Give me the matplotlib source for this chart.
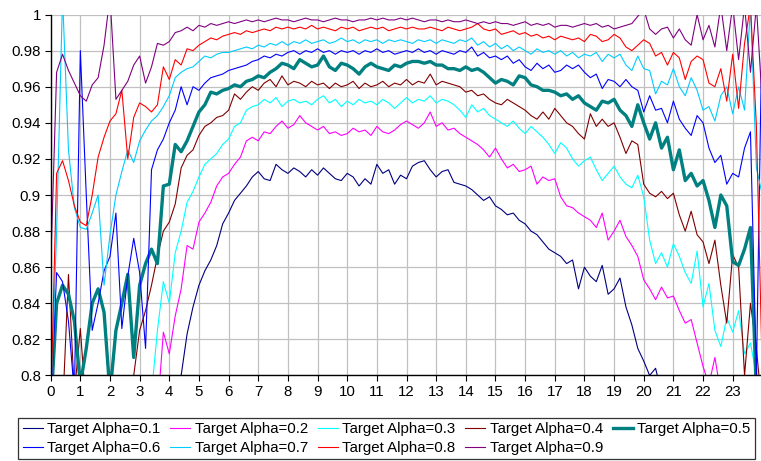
import numpy as np
import matplotlib
matplotlib.use("Agg")
import matplotlib.pyplot as plt
from matplotlib.ticker import FuncFormatter, MultipleLocator

plt.rcParams["font.family"] = ["Liberation Sans", "DejaVu Sans"]

# hour of day, sampled every 0.2 h
hours = np.arange(121) * 0.2

# coverage per series, in thousandths
alpha_01 = [
    780, 780, 780, 780, 780, 780, 780, 780, 780, 780,
    780, 780, 780, 780, 780, 780, 780, 780, 780, 780,
    780, 780, 800, 823, 838, 850, 858, 864, 872, 884,
    890, 897, 901, 905, 910, 913, 909, 908, 917, 914,
    912, 915, 913, 910, 914, 911, 915, 912, 909, 908,
    912, 910, 905, 909, 906, 917, 912, 914, 906, 911,
    909, 916, 918, 919, 914, 910, 913, 914, 907, 906,
    905, 903, 900, 897, 899, 894, 892, 889, 890, 886,
    884, 880, 878, 874, 870, 868, 866, 862, 864, 848,
    860, 855, 852, 861, 845, 848, 854, 838, 828, 815,
    808, 800, 804, 790, 780, 780, 780, 780, 780, 780,
    780, 780, 780, 780, 780, 780, 780, 780, 780, 780,
    780,
]
alpha_02 = [
    780, 780, 780, 780, 780, 780, 780, 780, 780, 780,
    780, 780, 780, 780, 780, 780, 780, 780, 780, 824,
    812, 833, 848, 872, 870, 885, 890, 896, 905, 910,
    912, 917, 921, 930, 932, 930, 935, 934, 938, 941,
    937, 939, 944, 940, 938, 936, 938, 934, 935, 933,
    934, 937, 935, 936, 933, 938, 935, 934, 936, 939,
    941, 939, 937, 940, 946, 938, 940, 936, 937, 934,
    932, 930, 928, 925, 921, 926, 920, 915, 917, 913,
    914, 916, 906, 910, 908, 909, 899, 894, 893, 890,
    888, 886, 882, 890, 875, 880, 886, 877, 872, 866,
    853, 848, 842, 849, 843, 844, 836, 829, 831, 818,
    805, 795, 810, 790, 780, 780, 780, 780, 780, 780,
    780,
]
alpha_03 = [
    780, 780, 780, 780, 780, 780, 780, 780, 780, 780,
    780, 780, 780, 780, 780, 780, 780, 790, 825, 852,
    840, 868, 880, 896, 902, 910, 917, 920, 923, 928,
    931, 938, 940, 947, 949, 950, 953, 951, 954, 949,
    952, 953, 951, 952, 950, 953, 955, 951, 953, 949,
    952, 950, 953, 951, 952, 950, 953, 951, 948, 951,
    954, 951, 953, 952, 955, 951, 953, 952, 950, 947,
    943, 950, 946, 948, 944, 942, 940, 938, 941, 937,
    934, 938, 935, 932, 928, 923, 929, 926, 920, 916,
    919, 921, 914, 908, 912, 916, 910, 906, 904, 911,
    899, 875, 862, 868, 860, 873, 866, 857, 851, 869,
    838, 851, 825, 816, 832, 824, 836, 812, 818, 800,
    780,
]
alpha_04 = [
    780, 785, 780, 856, 790, 826, 780, 780, 780, 780,
    780, 780, 780, 780, 800, 825, 836, 850, 866, 880,
    885, 895, 915, 922, 925, 933, 938, 940, 943, 944,
    947, 956, 953, 957, 960, 958, 962, 964, 960, 966,
    961, 963, 962, 960, 963, 961, 962, 959, 962, 960,
    961, 963, 959, 962, 960, 961, 963, 960, 962, 961,
    964, 961, 963, 962, 967, 961, 963, 962, 961, 960,
    957, 958, 955, 956, 953, 951, 950, 953, 951, 949,
    947, 944, 942, 946, 942, 948, 944, 940, 938, 934,
    931, 945, 938, 942, 938, 940, 932, 923, 930, 928,
    906, 901, 899, 902, 898, 901, 889, 880, 891, 878,
    874, 862, 875, 850, 829, 867, 860, 800, 840, 815,
    780,
]
alpha_05 = [
    780, 840, 850, 845, 830, 795, 815, 840, 848, 835,
    790, 825, 840, 856, 810, 850, 862, 870, 862, 905,
    906, 928, 924, 930, 938, 946, 950, 957, 956, 958,
    959, 961, 960, 963, 964, 966, 965, 968, 970, 973,
    972, 970, 975, 973, 971, 972, 977, 971, 969, 973,
    972, 970, 967, 971, 973, 971, 970, 969, 972, 971,
    973, 974, 974, 973, 974, 972, 972, 970, 970, 969,
    971, 969, 970, 968, 965, 962, 964, 963, 961, 966,
    965, 961, 960, 958, 958, 957, 955, 956, 953, 955,
    951, 949, 947, 952, 951, 953, 947, 944, 938, 950,
    940, 931, 940, 926, 932, 914, 925, 908, 912, 905,
    908, 897, 882, 900, 894, 863, 861, 870, 882, 790,
    780,
]
alpha_06 = [
    780, 857, 852, 830, 790, 980, 900, 825, 840, 858,
    866, 890, 826, 855, 876, 857, 815, 914, 925, 931,
    940, 947, 960, 950, 960, 958, 962, 965, 966, 967,
    969, 970, 971, 972, 974, 975, 977, 976, 978, 977,
    979, 980, 978, 980, 979, 981, 979, 980, 978, 980,
    979, 980, 978, 980, 979, 981, 979, 980, 978, 979,
    980, 979, 981, 979, 980, 978, 980, 979, 978, 980,
    979, 982, 977, 979, 976, 977, 975, 977, 973, 975,
    971, 969, 973, 970, 972, 968, 969, 972, 970, 972,
    968, 965, 967, 959, 964, 963, 960, 964, 960, 958,
    946, 955, 947, 948, 940, 952, 942, 937, 933, 944,
    940, 926, 918, 922, 906, 912, 910, 926, 935, 800,
    1005,
]
alpha_07 = [
    780, 880, 1010, 925, 893, 882, 881, 890, 900, 850,
    878, 900, 913, 925, 918, 930, 936, 941, 944, 949,
    955, 965, 968, 970, 971, 974, 977, 976, 978, 979,
    979, 980, 981, 982, 981, 983, 982, 984, 983, 985,
    983, 985, 984, 986, 984, 985, 986, 984, 985, 987,
    985, 986, 984, 986, 985, 986, 984, 986, 985, 986,
    985, 984, 986, 985, 986, 984, 986, 985, 984, 986,
    985, 987, 983, 985, 982, 984, 981, 983, 980, 982,
    980, 978, 981, 979, 980, 978, 980, 977, 979, 976,
    978, 977, 979, 974, 978, 976, 978, 972, 969, 977,
    970, 969, 956, 963, 961, 970, 960, 955, 965, 958,
    947, 949, 941, 955, 960, 945, 960, 947, 1005, 915,
    900,
]
alpha_08 = [
    780, 912, 919, 908, 894, 885, 883, 900, 921, 932,
    941, 945, 958, 920, 943, 951, 949, 946, 950, 971,
    964, 975, 972, 981, 980, 983, 985, 987, 986, 988,
    989, 990, 989, 991, 990, 991, 992, 991, 993, 992,
    993, 992, 993, 992, 994, 992, 993, 992, 991, 993,
    992, 993, 991, 992, 993, 992, 993, 991, 992, 993,
    992, 993, 992, 992, 993, 992, 991, 993, 992, 991,
    992, 993, 995, 992, 991, 992, 989, 990, 991, 989,
    990, 988, 989, 987, 988, 986, 988, 987, 986, 987,
    985, 989, 988, 985, 986, 989, 987, 982, 980, 983,
    986, 984, 977, 979, 972, 979, 976, 964, 974, 977,
    975, 962, 960, 970, 952, 978, 948, 984, 1005, 938,
    800,
]
alpha_09 = [
    860, 968, 978, 969, 962, 955, 952, 961, 965, 983,
    1010, 953, 958, 963, 972, 977, 962, 971, 984, 983,
    985, 990, 991, 993, 991, 994, 993, 995, 994, 995,
    996, 995, 996, 997, 996, 997, 996, 997, 998, 997,
    997, 996, 997, 998, 997, 997, 996, 997, 998, 997,
    997, 996, 997, 997, 998, 997, 998, 997, 997, 998,
    997, 998, 997, 996, 997, 997, 996, 997, 996, 996,
    997, 996, 995, 996, 995, 996, 995, 995, 994, 995,
    996, 994, 995, 994, 995, 993, 994, 994, 993, 994,
    995, 994, 995, 993, 994, 992, 993, 994, 995, 999,
    1003, 992, 989, 992, 993, 987, 992, 986, 983, 1000,
    986, 994, 982, 1005, 980, 1005, 975, 1005, 968, 1005,
    950,
]

labels = ["Target Alpha=0.%d" % k for k in range(1, 10)]
series = [alpha_01, alpha_02, alpha_03, alpha_04, alpha_05,
          alpha_06, alpha_07, alpha_08, alpha_09]
colors = ["#000080", "#FF00FF", "#00FFFF", "#800000", "#008080",
          "#0000FF", "#00CCFF", "#FF0000", "#800080"]
widths = [0.8, 0.8, 0.8, 0.8, 2.4, 0.8, 0.8, 0.8, 0.8]

fig = plt.figure(figsize=(7.61, 4.61), dpi=100)
ax = fig.add_axes([0.0666, 0.1855, 0.9334, 0.783])

lines = []
for vals, col, lw, lab in zip(series, colors, widths, labels):
    ln, = ax.plot(hours, np.array(vals) / 1000.0, color=col, lw=lw, label=lab)
    lines.append(ln)

ax.set_xlim(0, 23.955)
ax.set_ylim(0.8, 1.0)
ax.xaxis.set_major_locator(MultipleLocator(1))
ax.yaxis.set_major_locator(MultipleLocator(0.02))
ax.yaxis.set_major_formatter(FuncFormatter(lambda v, _: "%g" % round(v, 2)))
ax.grid(True, color="#c0c0c0", lw=0.9)
ax.set_axisbelow(True)
for side in ("top", "right"):
    ax.spines[side].set_visible(False)
for side in ("left", "bottom"):
    ax.spines[side].set_color("black")
    ax.spines[side].set_linewidth(1.0)
ax.tick_params(labelsize=10.8, length=4, width=0.8, direction="out", pad=3)

# legend laid out row by row: 0.1..0.5 on top, 0.6..0.9 below
order = [0, 5, 1, 6, 2, 7, 3, 8, 4]
leg = fig.legend([lines[i] for i in order], [labels[i] for i in order],
                 loc="upper left", bbox_to_anchor=(0.0237, 0.0933, 0.9685, 0.0),
                 mode="expand", ncol=5, fontsize=10.8, frameon=True,
                 fancybox=False, edgecolor="black", handlelength=1.35,
                 handletextpad=0.3, columnspacing=0.4, labelspacing=0.3,
                 borderpad=0.3, borderaxespad=0.0)
leg.get_frame().set_linewidth(0.9)

fig.savefig("out.png", dpi=100)
